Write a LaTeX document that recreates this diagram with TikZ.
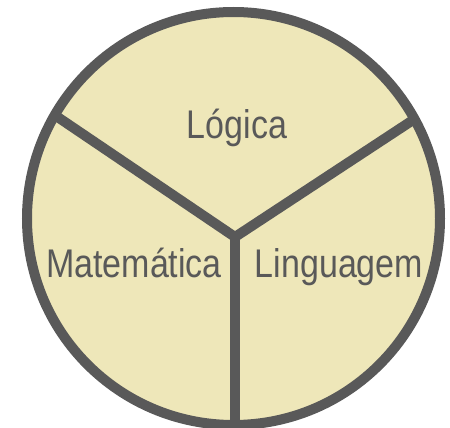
\documentclass[tikz,border=0pt]{standalone}
\usepackage{fontspec}
\setmainfont{Liberation Sans}[FakeStretch=0.85]
\usetikzlibrary{calc}
\definecolor{fillc}{HTML}{EEE7B9}
\definecolor{linec}{HTML}{595959}
\begin{document}
\begin{tikzpicture}[x=1pt,y=-1pt,
  lbl/.style={text=linec,font=\fontsize{40}{44}\selectfont,anchor=base,inner sep=0pt},
  divider/.style={draw=linec,line width=10pt}]
\useasboundingbox (0,0) rectangle (450,428);
\clip (0,0) rectangle (450,428);
\coordinate (c) at (233.5,218.5);
\coordinate (j) at (235,237);
\coordinate (el) at ($(j)!1.3!(59,118)$);
\coordinate (er) at ($(j)!1.3!(410,122)$);
\coordinate (eb) at (235,460);
\fill[fillc] (c) circle[radius=206.5];
\begin{scope}
  \clip (c) circle[radius=206.5];
  \draw[divider,line join=miter] (el) -- (j) -- (er);
  \draw[divider] (j) -- (eb);
\end{scope}
\draw[draw=linec,line width=10pt] (c) circle[radius=206.5];
\node[lbl] (logica) at (237,139) {Lógica};
\node[lbl] (mat) at (134,277) {Matemática};
\node[lbl] (ling) at (339,277) {Linguagem};
\end{tikzpicture}
\end{document}
